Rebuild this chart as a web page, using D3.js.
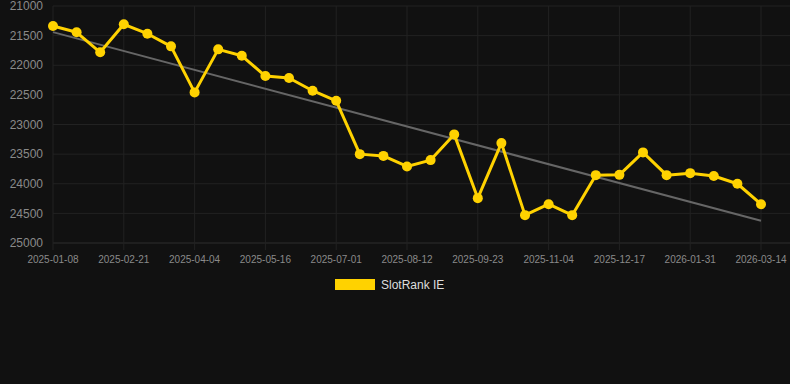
<!DOCTYPE html>
<html>
<head>
<meta charset="utf-8">
<script src="https://cdn.jsdelivr.net/npm/d3@7"></script>
<style>
  html, body { margin: 0; padding: 0; background: #111111; }
  svg { display: block; }
</style>
</head>
<body>
<svg id="chart" width="790" height="384"></svg>
<script>
const dates = ["2025-01-08","2025-01-22","2025-02-05","2025-02-21","2025-03-07","2025-03-21",
  "2025-04-04","2025-04-18","2025-05-02","2025-05-16","2025-05-31","2025-06-16",
  "2025-07-01","2025-07-15","2025-07-29","2025-08-12","2025-08-26","2025-09-09",
  "2025-09-23","2025-10-07","2025-10-21","2025-11-04","2025-11-18","2025-12-03",
  "2025-12-17","2026-01-01","2026-01-16","2026-01-31","2026-02-14","2026-02-28","2026-03-14"];
const ranks = [21338,21444,21782,21309,21468,21681,22458,21732,21840,22182,22216,22430,
  22600,23500,23530,23708,23601,23167,24243,23314,24530,24345,24530,23855,23850,23471,
  23855,23821,23870,24000,24345];
const yTicks = [21000,21500,22000,22500,23000,23500,24000,24500,25000];
const seriesName = "SlotRank IE";

(function () {
const svg = d3.select("#chart");
const mLeft = 53, mRight = 761, gridRight = 790, mTop = 6, mBottom = 243;

const x = d3.scalePoint().domain(dates).range([mLeft, mRight]);
const y = d3.scaleLinear().domain([21000, 25000]).range([mTop, mBottom]);

// horizontal grid
svg.append("g").selectAll("line").data(yTicks).join("line")
  .attr("x1", mLeft).attr("x2", gridRight)
  .attr("y1", d => y(d)).attr("y2", d => y(d))
  .attr("stroke", d => d === 25000 ? "#2e2e2e" : "#222222").attr("stroke-width", 1);

// vertical grid (every 3rd category)
const xTickDates = dates.filter((d, i) => i % 3 === 0);
svg.append("g").selectAll("line").data(xTickDates).join("line")
  .attr("x1", d => x(d)).attr("x2", d => x(d))
  .attr("y1", mTop).attr("y2", mBottom + 7)
  .attr("stroke", "#222222").attr("stroke-width", 1);

// y labels
svg.append("g").selectAll("text").data(yTicks).join("text")
  .attr("x", 43).attr("y", d => y(d)).attr("dy", "0.35em")
  .attr("text-anchor", "end")
  .attr("font-family", "Liberation Sans, Arial, sans-serif").attr("font-size", 12)
  .attr("fill", "#8a8a8a").text(d => d);

// x labels
svg.append("g").selectAll("text").data(xTickDates).join("text")
  .attr("x", d => x(d)).attr("y", 263)
  .attr("text-anchor", "middle")
  .attr("font-family", "Liberation Sans, Arial, sans-serif").attr("font-size", 10)
  .attr("fill", "#8a8a8a").text(d => d);

// trend line (least squares)
const n = ranks.length;
const mi = (n - 1) / 2;
const mv = d3.mean(ranks);
let sxy = 0, sxx = 0;
ranks.forEach((v, i) => { sxy += (i - mi) * (v - mv); sxx += (i - mi) * (i - mi); });
const slope = sxy / sxx;
const trend = [0, n - 1].map(i => ({ d: dates[i], v: mv + slope * (i - mi) }));
svg.append("path").datum(trend)
  .attr("d", d3.line().x(p => x(p.d)).y(p => y(p.v)))
  .attr("fill", "none").attr("stroke", "#666666").attr("stroke-width", 2);

// series line
const data = dates.map((d, i) => ({ d, v: ranks[i] }));
svg.append("path").datum(data)
  .attr("d", d3.line().x(p => x(p.d)).y(p => y(p.v)))
  .attr("fill", "none").attr("stroke", "#FFD200").attr("stroke-width", 3)
  .attr("stroke-linejoin", "round");

svg.append("g").selectAll("circle").data(data).join("circle")
  .attr("cx", p => x(p.d)).attr("cy", p => y(p.v)).attr("r", 5)
  .attr("fill", "#FFD200");

// legend
svg.append("rect").attr("x", 335).attr("y", 279).attr("width", 40).attr("height", 11)
  .attr("fill", "#FFD200");
svg.append("text").attr("x", 381).attr("y", 289)
  .attr("font-family", "Liberation Sans, Arial, sans-serif").attr("font-size", 12)
  .attr("fill", "#dddddd").text(seriesName);
})();
</script>
</body>
</html>
